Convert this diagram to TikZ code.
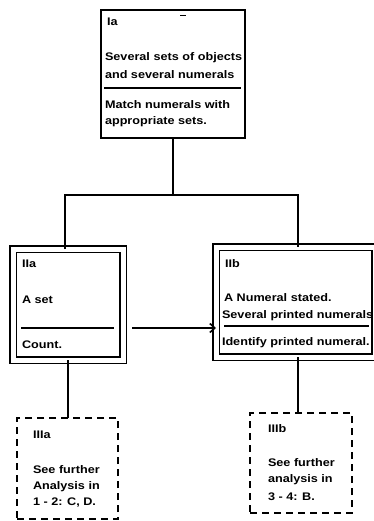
\documentclass[tikz,border=0pt]{standalone}
\usepackage{fontspec}
\setmainfont[FakeStretch=1.15]{Liberation Sans}
\usetikzlibrary{arrows.meta}
\begin{document}
\begin{tikzpicture}[x=1pt,y=1pt,
  every node/.style={inner sep=0pt, outer sep=0pt},
  box/.style={draw=black, line width=2pt, rectangle},
  dblbox/.style={draw=black, line width=1.8pt, double=white, double distance=5pt, rectangle},
  dashbox/.style={draw=black, line width=2pt, rectangle, dash pattern=on 7pt off 5pt},
  txt/.style={anchor=west, font=\bfseries\fontsize{11}{13}\selectfont},
  rule/.style={line width=1.5pt},
  conn/.style={line width=2.2pt},
  flow/.style={line width=2pt, -{Straight Barb[length=5pt, width=9pt, line width=1.6pt]}}
]
\useasboundingbox (0,0) rectangle (374,-521);

% top box Ia
\node[box, minimum width=144pt, minimum height=128pt] (Ia) at (173,-74) {};
\node[txt] (Ialab) at (107,-22) {Ia};
\draw[line width=1pt] (180,-16) -- (186,-16);
\node[txt] (Ia1) at (105,-58) {Several sets of objects};
\node[txt] (Ia2) at (105,-75) {and several numerals};
\draw[rule] (104,-88) -- (241,-88);
\node[txt] (Ia3) at (105,-105) {Match numerals with};
\node[txt] (Ia4) at (105,-122) {appropriate sets.};

% second level, double-framed boxes
\node[dblbox, minimum width=110pt, minimum height=111pt] (IIa) at (68,-304.5) {};
\node[txt] (IIalab) at (22,-264) {IIa};
\node[txt] (IIa1) at (22,-300) {A set};
\draw[rule] (21,-328) -- (114,-328);
\node[txt] (IIa2) at (22,-345) {Count.};

\node[dblbox, minimum width=159pt, minimum height=110pt] (IIb) at (295.5,-302) {};
\node[txt] (IIblab) at (225,-264) {IIb};
\node[txt] (IIb1) at (224,-298) {A Numeral stated.};
\node[txt] (IIb2) at (222,-316) {Several printed numerals};
\draw[rule] (224,-326) -- (369,-326);
\node[txt] (IIb3) at (222,-343) {Identify printed numeral.};

% third level, dashed boxes
\node[dashbox, minimum width=101pt, minimum height=101pt] (IIIa) at (67.5,-468.5) {};
\node[txt] (IIIalab) at (33,-435) {IIIa};
\node[txt] (IIIa1) at (33,-470) {See further};
\node[txt] (IIIa2) at (33,-487) {Analysis in};
\node[txt] (IIIa3) at (33,-503) {1 - 2: C, D.};

\node[dashbox, minimum width=102pt, minimum height=100pt] (IIIb) at (301,-463) {};
\node[txt] (IIIblab) at (268,-429) {IIIb};
\node[txt] (IIIb1) at (268,-463) {See further};
\node[txt] (IIIb2) at (268,-480) {analysis in};
\node[txt] (IIIb3) at (268,-497) {3 - 4: B.};

% connectors
\coordinate (hub) at (Ia.south |- 0,-195);
\draw[conn] (Ia.south) -- (hub);
\draw[conn] (IIa.north -| 65,0) |- (hub) -| (IIb.north -| 298,0);
\draw[conn] (IIa.south) -- (IIIa.north -| IIa.south);
\draw[conn] (IIb.south -| 298,0) -- (IIIb.north -| 298,0);
\draw[flow] (IIa.east |- 0,-328) ++(9,0) -- (IIb.west |- 0,-328);
\end{tikzpicture}
\end{document}
